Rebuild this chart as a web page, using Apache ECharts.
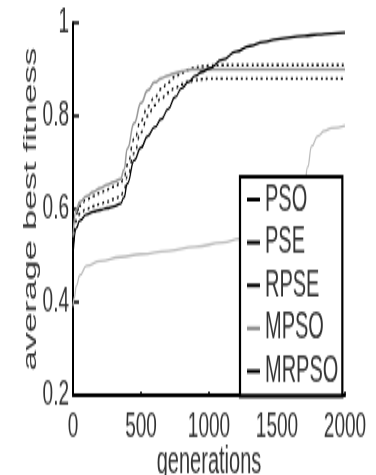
<!DOCTYPE html>
<html>
<head>
<meta charset="utf-8">
<script src="https://cdn.jsdelivr.net/npm/echarts@6/dist/echarts.min.js"></script>
<style>
html,body{margin:0;padding:0;background:#fff;}
#wrap{width:376px;height:475px;overflow:hidden;}
#chart{width:376px;height:250px;transform:scaleY(1.9);transform-origin:0 0;}
</style>
</head>
<body>
<div id="wrap"><div id="chart"></div></div>
<script>
// ---- data ----
const seriesNames = ['PSO', 'PSE', 'RPSE', 'MPSO', 'MRPSO'];
const xTicks = [0, 500, 1000, 1500, 2000];
const yTicks = [0.2, 0.4, 0.6, 0.8, 1];

const gens = [0,25,50,100,150,200,250,300,350,375,400,450,500,550,600,650,700,750,800,850,900,950,1000,1100,1200,1300,1400,1500,1600,1700,1800,1900,2000];

const pso   = [0.50,0.56,0.575,0.588,0.594,0.598,0.602,0.606,0.612,0.625,0.655,0.705,0.732,0.757,0.776,0.793,0.815,0.84,0.86,0.873,0.886,0.895,0.902,0.921,0.938,0.95,0.959,0.965,0.969,0.972,0.975,0.977,0.979];
const pse   = [0.53,0.59,0.607,0.62,0.628,0.635,0.642,0.648,0.655,0.668,0.695,0.75,0.79,0.82,0.84,0.858,0.872,0.884,0.893,0.90,0.904,0.906,0.908,0.909,0.909,0.909,0.909,0.909,0.909,0.909,0.909,0.909,0.909];
const rpse  = [0.54,0.60,0.615,0.628,0.637,0.645,0.652,0.658,0.664,0.685,0.73,0.785,0.828,0.855,0.872,0.881,0.887,0.892,0.896,0.899,0.90,0.90,0.90,0.90,0.90,0.90,0.90,0.90,0.90,0.90,0.90,0.90,0.90];
const mrpso = [0.51,0.575,0.59,0.60,0.606,0.611,0.616,0.621,0.627,0.64,0.67,0.72,0.765,0.80,0.823,0.838,0.85,0.86,0.868,0.874,0.877,0.879,0.88,0.88,0.88,0.88,0.88,0.88,0.88,0.88,0.88,0.88,0.88];

const mpsoGens = [0,10,25,50,100,200,350,500,700,900,1100,1230,1400,1550,1650,1700,1725,1755,1800,1850,1900,2000];
const mpso     = [0.39,0.41,0.435,0.458,0.478,0.488,0.497,0.503,0.51,0.519,0.528,0.536,0.545,0.565,0.60,0.64,0.69,0.735,0.757,0.768,0.774,0.779];

// ---- build ----
const pairs = (xs, ys) => xs.map((x, i) => [x, ys[i]]);
const styles = {
  PSO:   {color:'#000000', type:'solid',  width:1.3, legend:'#000'},
  PSE:   {color:'#111111', type:[2,3],    width:1.4, legend:'#000'},
  RPSE:  {color:'#999999', type:'solid',  width:1.5, legend:'#000'},
  MPSO:  {color:'#bdbdbd', type:'solid',  width:1.3, legend:'#888'},
  MRPSO: {color:'#111111', type:[2,3],    width:1.4, legend:'#000'}
};
const dataMap = {
  PSO: pairs(gens, pso),
  PSE: pairs(gens, pse),
  RPSE: pairs(gens, rpse),
  MPSO: pairs(mpsoGens, mpso),
  MRPSO: pairs(gens, mrpso)
};

const chart = echarts.init(document.getElementById('chart'));
const font = 'Liberation Sans, Arial, sans-serif';

chart.setOption({
  animation: false,
  backgroundColor: '#fff',
  grid: {left: 73, right: 31, top: 12, bottom: 42, outerBoundsMode: 'none', containLabel: false},
  xAxis: {
    type: 'value', min: xTicks[0], max: xTicks[xTicks.length - 1], interval: 500,
    name: 'generations', nameLocation: 'middle', nameGap: 25, nameMoveOverlap: false,
    nameTextStyle: {fontSize: 20, color: '#333', fontFamily: font},
    axisLine: {show: true, lineStyle: {color: '#000', width: 2}},
    axisTick: {show: true, inside: true, length: 2, lineStyle: {color: '#000', width: 1.5}},
    axisLabel: {fontSize: 19, color: '#333', fontFamily: font, margin: 7,
      formatter: v => String(v)},
    splitLine: {show: false}
  },
  yAxis: {
    type: 'value', min: yTicks[0], max: yTicks[yTicks.length - 1], interval: 0.2,
    name: 'average best fitness', nameLocation: 'middle', nameRotate: 90, nameGap: 33, nameMoveOverlap: false,
    nameTextStyle: {fontSize: 19, color: '#333', fontFamily: font},
    axisLine: {show: true, lineStyle: {color: '#000', width: 2}},
    axisTick: {show: true, inside: true, length: 6, lineStyle: {color: '#000', width: 1.5}},
    axisLabel: {fontSize: 19, color: '#333', fontFamily: font, margin: 4,
      formatter: v => String(Math.round(v * 10) / 10)},
    splitLine: {show: false}
  },
  legend: {
    orient: 'vertical', left: 240, top: 93,
    padding: [2, 4, 3, 7], itemGap: 2.6,
    itemWidth: 13, itemHeight: 2, icon: 'rect',
    backgroundColor: '#fff', borderColor: '#000', borderWidth: 2.2,
    textStyle: {fontSize: 20, lineHeight: 20, color: '#333', fontFamily: font},
    data: seriesNames.map(n => ({name: n, itemStyle: {color: styles[n].legend}}))
  },
  series: seriesNames.map(n => ({
    name: n, type: 'line', data: dataMap[n],
    smooth: true, smoothMonotone: 'x', symbol: 'none', showSymbol: false,
    lineStyle: {color: styles[n].color, type: styles[n].type, width: styles[n].width},
    itemStyle: {color: styles[n].color},
    z: n === 'PSO' ? 5 : 3
  }))
});
</script>
</body>
</html>
